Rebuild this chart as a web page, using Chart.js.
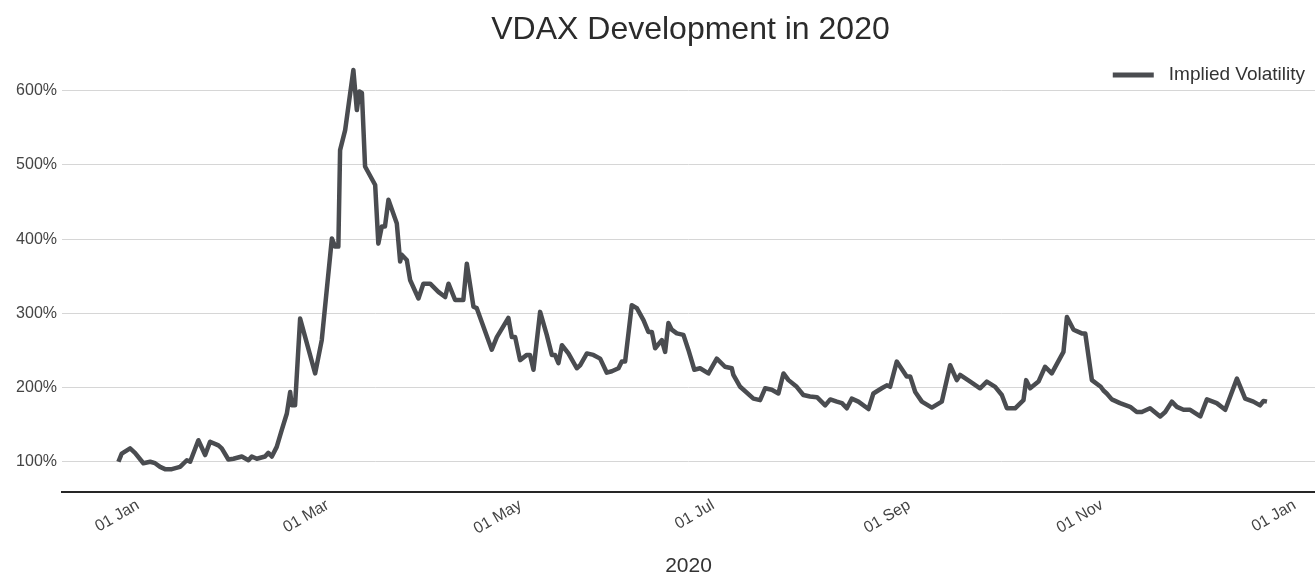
<!DOCTYPE html>
<html><head><meta charset="utf-8">
<script src="https://cdn.jsdelivr.net/npm/chart.js@4.4.0/dist/chart.umd.min.js"></script>
<style>html,body{margin:0;padding:0;background:#fff;} #wrap{width:1315px;height:575px;}</style>
</head><body><div id="wrap"><canvas id="c" width="1315" height="575"></canvas></div>
<script>
// Days since 01 Jan 2020
const days = [
 -0.85,0.2,2.85,4.4,7.05,9.2,10.75,12.35,13.9,16.05,18.65,20.8,21.85,24.45,26.6,28.15,30.8,31.85,33.95,35.55,
 38.2,40.3,41.35,42.95,45.55,46.6,47.7,49.25,50.85,52.45,53.5,54,55.05,56.65,61.4,63.5,66.7,67.7,68.75,69.3,
 70.9,73.5,74.6,75.4,76.2,77.2,80.4,81.4,82.5,83.5,84.6,87.25,88.3,88.8,90.4,91.45,94.1,95.65,97.8,100.4,
 102.55,103.6,105.7,108.3,109.4,111.5,112.55,117.3,118.9,119.9,122.55,123.65,124.7,126.25,128.4,129.4,130.5,132.6,134.7,136.3,
 137.3,138.4,139.5,141.55,144.2,145.25,147.4,149.45,151.6,153.7,155.3,157.4,158.45,159.5,161.6,163.2,165.3,166.85,167.95,169,
 171.1,172.15,173.2,174.25,175.85,177.95,179.5,181.4,183.2,185.85,188.5,191.1,193.25,193.75,195.9,200.1,202.2,203.8,205.9,208,
 209.6,211.2,213.8,215.9,218,220.2,222.8,224.4,226.5,228.1,229.65,231.2,233.3,236.5,238.05,240.7,242.3,243.35,245.45,248.6,
 249.7,251.3,253.4,256.55,259.7,262.35,264.45,265.5,268.7,271.8,273.95,276.6,278.7,280.3,282.9,285.55,286.4,287.65,290.3,292.4,
 294.5,298.2,299.3,301.4,304,305.1,307.2,310,310.85,311.9,313.5,316.1,319.3,321.4,323,325.6,328.8,330.4,332.5,334.1,
 336.2,338.3,341.5,343.6,346.7,349.4,353.1,355.7,358.3,360.4,361.5,362.6
];
// Implied volatility, % of start value
const vdax = [
 100,111,118,112,98,100,98,93,90,90,93,102,100,129,109,127,122,118,103,104,
 107,102,107,104,107,112,107,120,143,165,194,176,176,293,219,264,401,390,390,520,
 547,628,574,599,597,498,473,394,417,417,453,421,370,379,372,345,320,340,340,329,
 322,340,318,318,367,309,307,251,268,275,294,268,268,237,244,244,224,302,271,244,
 244,233,257,246,226,230,246,244,239,220,222,226,235,235,311,307,291,275,275,253,
 264,248,287,278,273,271,251,224,226,219,239,228,226,217,201,185,183,199,197,192,
 219,210,201,190,188,187,176,184,181,179,172,185,181,171,192,199,203,201,235,215,
 215,194,181,173,181,230,210,217,208,199,208,201,190,172,172,183,210,199,208,228,
 219,248,295,278,273,273,210,201,196,192,184,179,174,167,167,172,161,167,181,174,
 170,170,161,184,179,170,212,185,181,176,182,181
];
const tickDays = [0,60,121,182,244,305,366];
const tickLabels = ['01 Jan','01 Mar','01 May','01 Jul','01 Sep','01 Nov','01 Jan'];
const yTicks = [100,200,300,400,500,600];
const seriesName = 'Implied Volatility';
const chartTitle = 'VDAX Development in 2020';
const xTitle = '2020';

const LINE = '#4a4c50';
const FONT = "'Liberation Sans', Arial, sans-serif";
const points = days.map((d,i)=>({x:d, y:vdax[i]}));

// Title centred over the axes and legend inside the plot, top right
const overlay = {
  id:'overlay',
  afterDraw(chart){
    const ctx = chart.ctx, a = chart.chartArea;
    ctx.save();
    ctx.font = 'normal 32px ' + FONT;
    ctx.fillStyle = '#2b2b2b';
    ctx.textAlign = 'center';
    ctx.textBaseline = 'middle';
    ctx.fillText(chartTitle, (a.left + a.right) / 2 + 2, a.top - 20);
    ctx.font = 'normal 19px ' + FONT;
    ctx.fillStyle = '#333';
    ctx.textAlign = 'right';
    const ly = a.top + 25, rx = a.right - 10;
    ctx.fillText(seriesName, rx, ly);
    const tw = ctx.measureText(seriesName).width;
    const x1 = rx - tw - 15;
    ctx.strokeStyle = LINE; ctx.lineWidth = 5; ctx.lineCap = 'butt';
    ctx.beginPath(); ctx.moveTo(x1 - 41, ly); ctx.lineTo(x1, ly); ctx.stroke();
    ctx.restore();
  }
};

new Chart(document.getElementById('c'), {
  type:'line',
  data:{datasets:[{label:seriesName, data:points, borderColor:LINE, backgroundColor:LINE,
    borderWidth:4.5, pointRadius:0, tension:0, borderJoinStyle:'round', fill:false}]},
  options:{
    responsive:false, animation:false, devicePixelRatio:1,
    layout:{padding:{left:0,right:0,top:50,bottom:0}},
    plugins:{ title:{display:false}, legend:{display:false}, tooltip:{enabled:false} },
    scales:{
      x:{type:'linear', min:-18.7, max:377.8,
        grid:{display:false, drawTicks:false},
        border:{display:true, color:'#262626', width:2},
        ticks:{maxRotation:30, minRotation:30, padding:4, labelOffset:17, autoSkip:false,
          color:'#444', font:{family:FONT,size:16},
          callback:(v)=>{const i=tickDays.indexOf(v); return i>=0?tickLabels[i]:'';}},
        afterBuildTicks:(s)=>{s.ticks=tickDays.map(v=>({value:v}));},
        afterFit:(s)=>{s.height=575-491.7; s.paddingLeft=0; s.paddingRight=0;},
        title:{display:true, text:xTitle, color:'#333', font:{family:FONT,size:21,lineHeight:0.8}, padding:{top:0,bottom:0}}
      },
      y:{min:59.6, max:655,
        grid:{color:'#d6d6d6', lineWidth:1, drawTicks:false},
        border:{display:false},
        ticks:{padding:5, color:'#444', font:{family:FONT,size:16}, callback:(v)=>v+'%'},
        afterBuildTicks:(s)=>{s.ticks=yTicks.map(v=>({value:v}));},
        afterFit:(s)=>{s.width=62;}
      }
    }
  },
  plugins:[overlay]
});
</script>
</body></html>
